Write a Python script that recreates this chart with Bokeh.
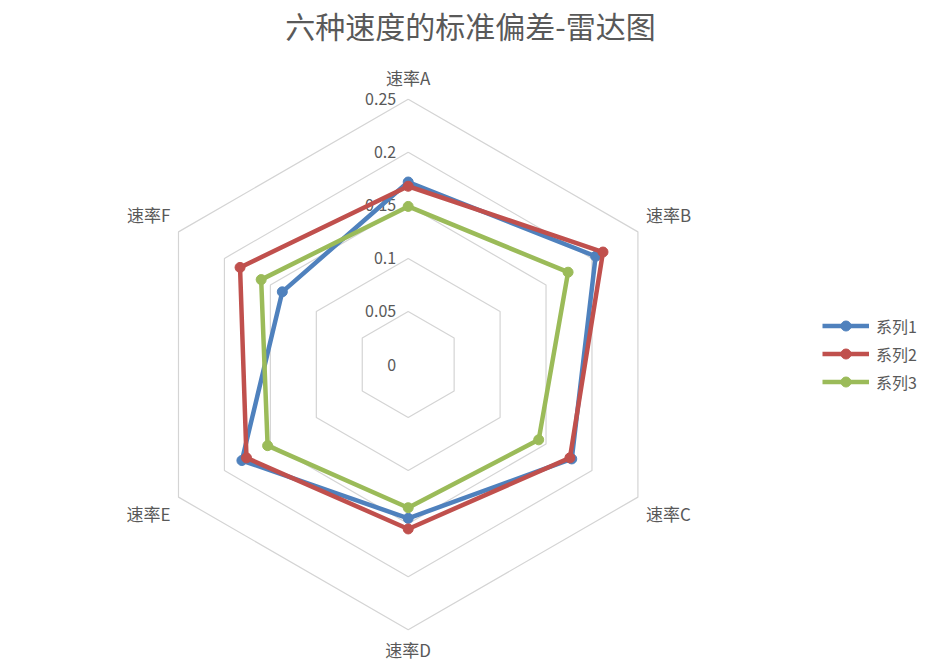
import numpy as np
from bokeh.plotting import figure
from bokeh.models import Range1d, Label, Legend, LegendItem
from bokeh.core.properties import value
from bokeh.embed import file_html
from bokeh.resources import INLINE

# data
categories = ["速率A", "速率B", "速率C", "速率D", "速率E", "速率F"]
series1 = [0.172, 0.204, 0.178, 0.145, 0.181, 0.137]
series2 = [0.168, 0.212, 0.176, 0.155, 0.176, 0.183]
series3 = [0.149, 0.174, 0.142, 0.135, 0.153, 0.160]
series_names = ["系列1", "系列2", "系列3"]
ticks = [0, 0.05, 0.1, 0.15, 0.2, 0.25]
tick_labels = ["0", "0.05", "0.1", "0.15", "0.2", "0.25"]

colors = ["#4F81BD", "#C0504D", "#9BBB59"]
FONT = "Noto Sans CJK SC"
TXT = "#595959"

W, H = 924, 664
scale = 1061.0  # px per data unit
cx, cy = 407.7, 364.0  # center in canvas px (from top-left)

p = figure(width=W, height=H, output_backend="svg", toolbar_location=None,
           x_range=Range1d(-cx / scale, (W - cx) / scale),
           y_range=Range1d(-(H - cy) / scale, cy / scale),
           min_border=0)
p.axis.visible = False
p.grid.visible = False
p.outline_line_color = None
p.background_fill_color = "white"

n = len(categories)
ang = np.pi / 2 - 2 * np.pi * np.arange(n) / n
ca, sa = np.cos(ang), np.sin(ang)

# hexagon rings
rings_x = [list(np.append(t * ca, t * ca[0])) for t in ticks[1:]]
rings_y = [list(np.append(t * sa, t * sa[0])) for t in ticks[1:]]
p.multi_line(rings_x, rings_y, line_color="#D4D4D4", line_width=1.2)

# tick labels
p.text(x=[0] * len(ticks), y=ticks, text=tick_labels, text_align="right",
       text_baseline="middle", x_offset=-12, text_color=TXT,
       text_font=value(FONT), text_font_size="16px")

# category labels
rmax = ticks[-1]
aligns = ["center" if abs(c) < 0.1 else ("left" if c > 0 else "right") for c in ca]
xoff = [0 if abs(c) < 0.1 else (8 if c > 0 else -8) for c in ca]
yoff = [(-22 if s > 0 else 20) if abs(c) < 0.1 else (-17 if s > 0 else 16) for c, s in zip(ca, sa)]
p.text(x=list(rmax * ca), y=list(rmax * sa), text=categories, text_align=aligns,
       text_baseline="middle", x_offset=xoff, y_offset=yoff, text_color=TXT,
       text_font=value(FONT), text_font_size="17px")

items = []
for vals, col, name in zip([series1, series2, series3], colors, series_names):
    v = np.array(vals)
    xs = list(np.append(v * ca, v[0] * ca[0]))
    ys = list(np.append(v * sa, v[0] * sa[0]))
    l = p.line(xs, ys, line_color=col, line_width=4.5, line_join="round")
    s = p.scatter(list(v * ca), list(v * sa), size=10, fill_color=col, line_color=col)
    items.append(LegendItem(label=name, renderers=[l, s]))

legend = Legend(items=items, location=(822, H - 311 - 83), orientation="vertical",
                glyph_width=47, glyph_height=25, label_height=25, spacing=3,
                label_standoff=7, padding=0, margin=0,
                label_text_font=FONT, label_text_font_size="16px",
                label_text_color=TXT, border_line_color=None,
                background_fill_alpha=0)
legend.spacing = 3
p.add_layout(legend, "center")

title = Label(x=470, y=H - 24, x_units="screen", y_units="screen",
              text="六种速度的标准偏差-雷达图", text_align="center",
              text_baseline="middle", text_font=FONT, text_font_size="30px",
              text_color=TXT)
p.add_layout(title)

open("out.html", "w").write(file_html(p, INLINE))
